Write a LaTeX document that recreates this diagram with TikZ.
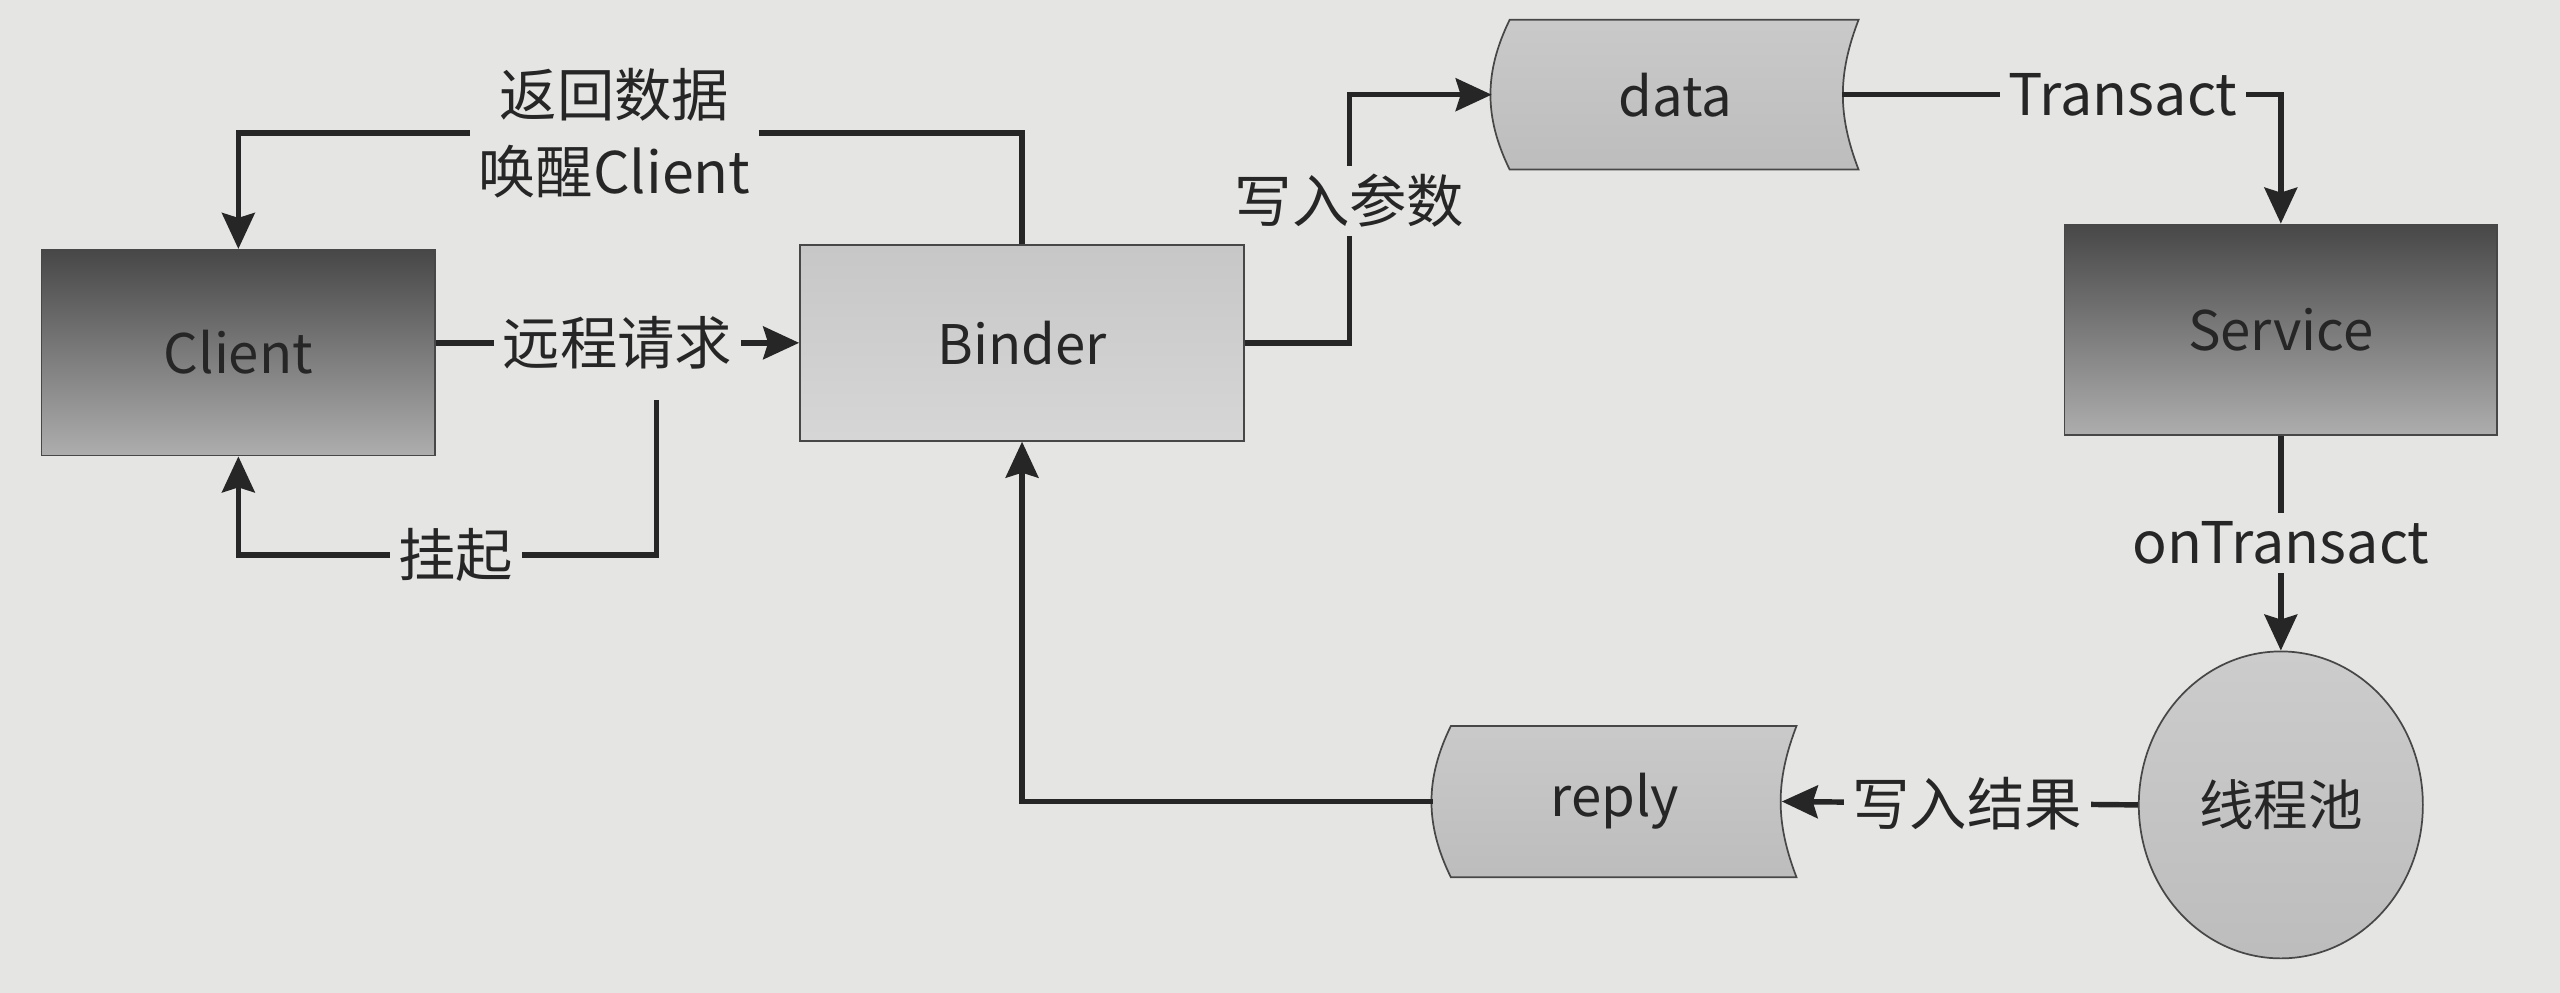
\documentclass[tikz,border=0pt]{standalone}
\usepackage{fontspec}
\setmainfont{Noto Sans CJK SC}
\usetikzlibrary{arrows.meta,shapes.geometric,backgrounds}
\definecolor{paper}{RGB}{229,229,227}
\definecolor{ink}{RGB}{38,38,38}

\begin{document}
\begin{tikzpicture}[x=0.2mm,y=0.2mm,
    every node/.style={text=ink,font=\fontsize{19pt}{27pt}\selectfont},
    darkbox/.style={rectangle,draw=ink!85,line width=0.6pt,top color=black!72,bottom color=black!32},
    lightbox/.style={rectangle,draw=ink!85,line width=0.6pt,top color=black!22,bottom color=black!16},
    tapebox/.style={rectangle,minimum width=#1},
    tape/.style={draw=ink!85,line width=0.6pt,top color=black!21,bottom color=black!26},
    pool/.style={ellipse,draw=ink!85,line width=0.6pt,top color=black!20,bottom color=black!26,
      minimum width=34.8mm,minimum height=37.6mm},
    arr/.style={-{Stealth[length=4.4mm,width=4mm,inset=0.6mm]},line width=1.9pt,draw=ink},
    lbl/.style={fill=paper,inner sep=3pt,font=\fontsize{20pt}{27pt}\selectfont}]

    \begin{scope}[on background layer]
      \fill[paper] (0,0) rectangle (1568,608);
    \end{scope}
    \useasboundingbox (0,0) rectangle (1568,608);

    % boxes
    \node[darkbox,minimum width=48.2mm,minimum height=25.2mm] (client) at (146,392) {Client};
    \node[lightbox,minimum width=54.4mm,minimum height=24mm] (binder) at (626,398) {Binder};
    \node[tapebox=44.8mm,minimum height=18.2mm] (data) at (1026,550) {data};
    \node[darkbox,minimum width=53mm,minimum height=25.8mm] (service) at (1397,406) {Service};
    \node[pool] (threads) at (1397,115) {线程池};
    \node[tapebox=44.4mm,minimum height=18.4mm] (reply) at (989,117) {reply};

    % client <-> binder
    \draw[arr] (client.east |- binder.west) -- node[lbl]{远程请求} (binder.west);
    \coordinate (hang) at (402,363);
    \draw[arr] (hang) -- ++(0,-95) -| node[lbl,pos=0.24]{挂起} (client.south);
    \draw[arr] (binder.north) -- ++(0,68) -| node[lbl,align=center,pos=0.26]{返回数据\\唤醒Client} (client.north);

    % binder -> service -> threads
    \draw[arr] (binder.east) -- ++(64,0) |- node[lbl,pos=0.286]{写入参数} (data.west);
    \draw[arr,shorten <=-2mm] (data.east) -| node[lbl,pos=0.313]{Transact} (service.north);
    \draw[arr] (service.south) -- node[lbl]{onTransact} (threads.north);

    % back to binder
    \draw[arr,shorten >=-1.8mm] (threads.west) -- node[lbl]{写入结果} (reply.east);
    \draw[arr] (reply.west) -| (binder.south);

    \begin{scope}[on background layer]
      \foreach \t in {data,reply}
        \path[tape] ([xshift=2.2mm]\t.north west) to[bend right=26] ([xshift=2.2mm]\t.south west)
          -- (\t.south east) to[bend left=21] (\t.north east) -- cycle;
    \end{scope}
\end{tikzpicture}
\end{document}
